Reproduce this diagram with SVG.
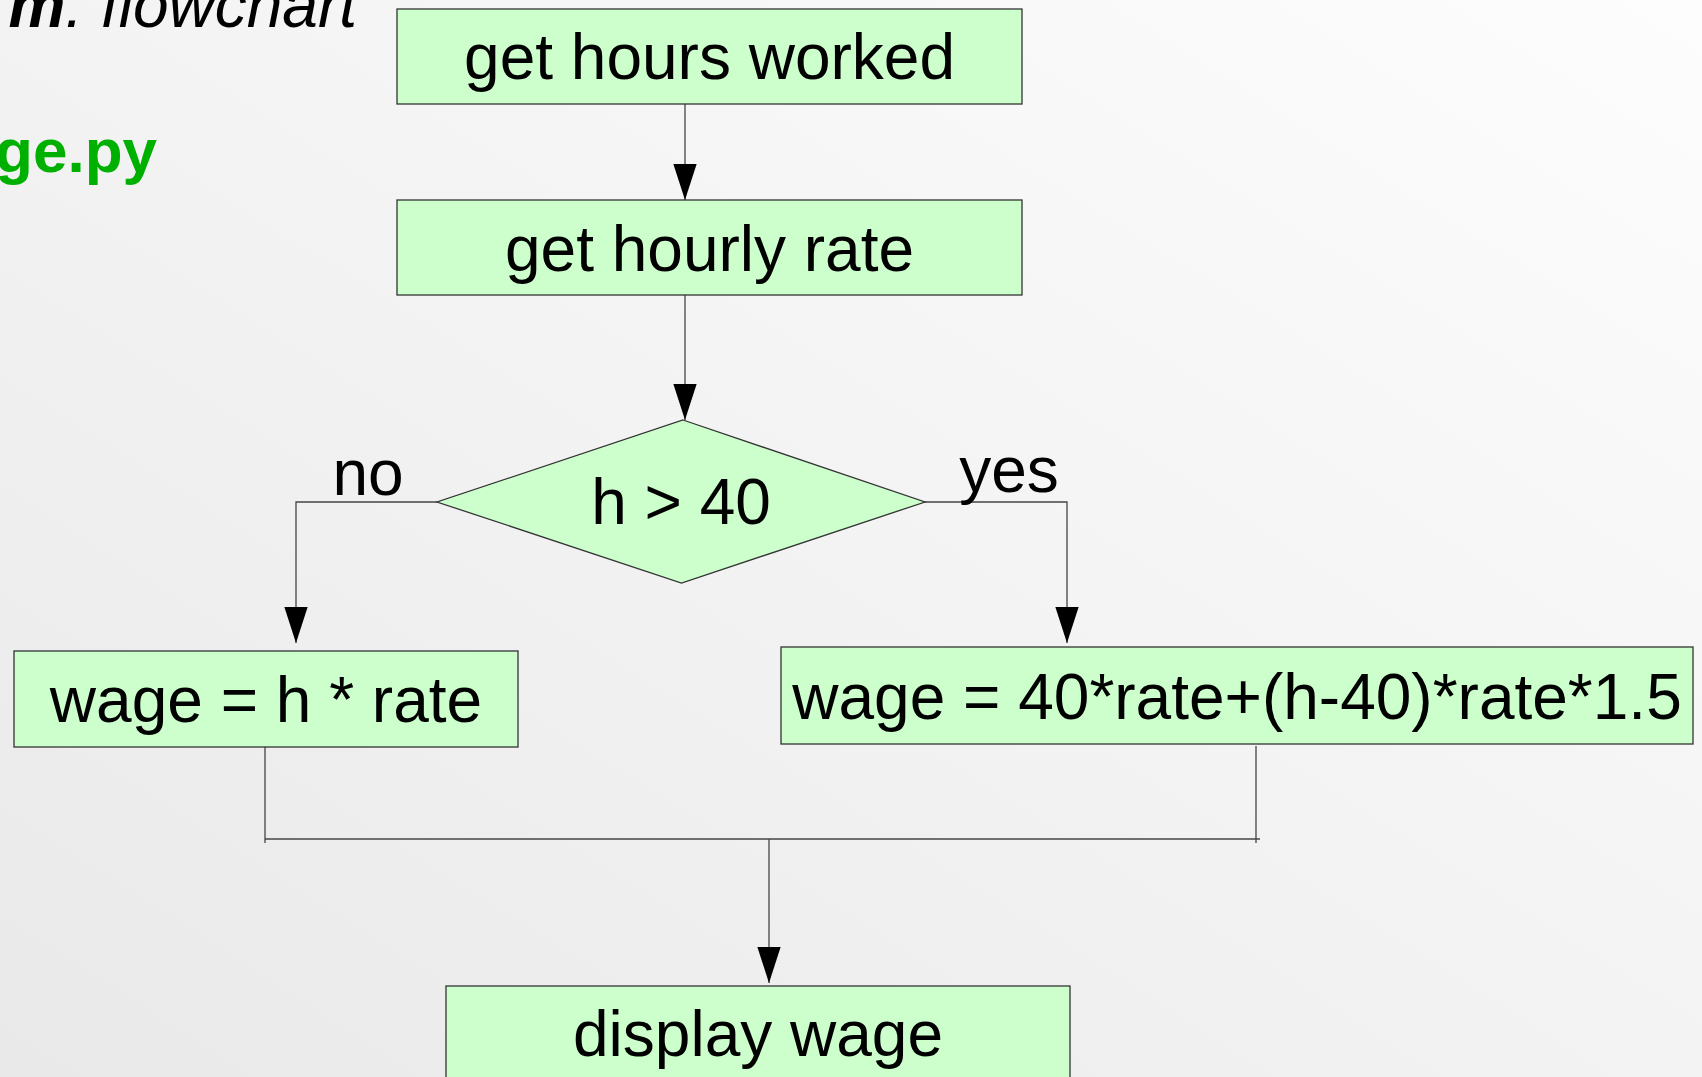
<svg xmlns="http://www.w3.org/2000/svg" width="1702" height="1077" viewBox="0 0 1702 1077">
<defs>
<linearGradient id="bg" x1="0" y1="1" x2="1" y2="0">
<stop offset="0" stop-color="#e9e9e9"/>
<stop offset="1" stop-color="#fdfdfd"/>
</linearGradient>
<marker id="arr" markerUnits="userSpaceOnUse" markerWidth="36" markerHeight="24" viewBox="0 0 34 22" refX="34" refY="11" orient="auto">
<path d="M0,0 L34,11 L0,22 Z" fill="#000"/>
</marker>
</defs>
<style>
.box{fill:#ccffcc;stroke:#333;stroke-width:1.3}
.lbl{font-family:"Liberation Sans",Arial,sans-serif;font-size:64px;fill:#000;text-anchor:middle}
.conn{fill:none;stroke:#444;stroke-width:1.3}
</style>
<rect x="0" y="0" width="1702" height="1077" fill="url(#bg)"/>
<text x="357" y="27" font-family="'Liberation Sans',Arial,sans-serif" font-size="64" font-style="italic" text-anchor="end" fill="#000"><tspan font-weight="bold">m</tspan>: flowchart</text>
<text x="157" y="172" font-family="'Liberation Sans',Arial,sans-serif" font-size="62" font-weight="bold" text-anchor="end" fill="#00b000">ge.py</text>
<g id="connectors">
<path class="conn" d="M685,104 V200" marker-end="url(#arr)"/>
<path class="conn" d="M685,295 V420" marker-end="url(#arr)"/>
<path class="conn" d="M437,502 H296 V643" marker-end="url(#arr)"/>
<path class="conn" d="M925,502 H1067 V643" marker-end="url(#arr)"/>
<path class="conn" d="M265,747 V843"/>
<path class="conn" d="M1256,746 V843"/>
<path class="conn" d="M265,839 H1260"/>
<path class="conn" d="M769,839 V983" marker-end="url(#arr)"/>
</g>
<g id="n1"><rect class="box" x="397" y="9" width="625" height="95"/><text class="lbl" x="709.5" y="79">get hours worked</text></g>
<g id="n2"><rect class="box" x="397" y="200" width="625" height="95"/><text class="lbl" x="709.5" y="271">get hourly rate</text></g>
<g id="n3"><path class="box" d="M683,420 L925,502 L681.5,583 L437,502 Z"/><text class="lbl" x="681" y="524">h &gt; 40</text></g>
<g id="lbl-no"><text class="lbl" x="368" y="495">no</text></g>
<g id="lbl-yes"><text class="lbl" x="1009" y="492">yes</text></g>
<g id="n4"><rect class="box" x="14" y="651" width="504" height="96"/><text class="lbl" x="266" y="722">wage = h * rate</text></g>
<g id="n5"><rect class="box" x="781" y="647" width="912" height="97"/><text class="lbl" x="1237" y="719">wage = 40*rate+(h-40)*rate*1.5</text></g>
<g id="n6"><rect class="box" x="446" y="986" width="624" height="110"/><text class="lbl" x="758" y="1056">display wage</text></g>
</svg>
